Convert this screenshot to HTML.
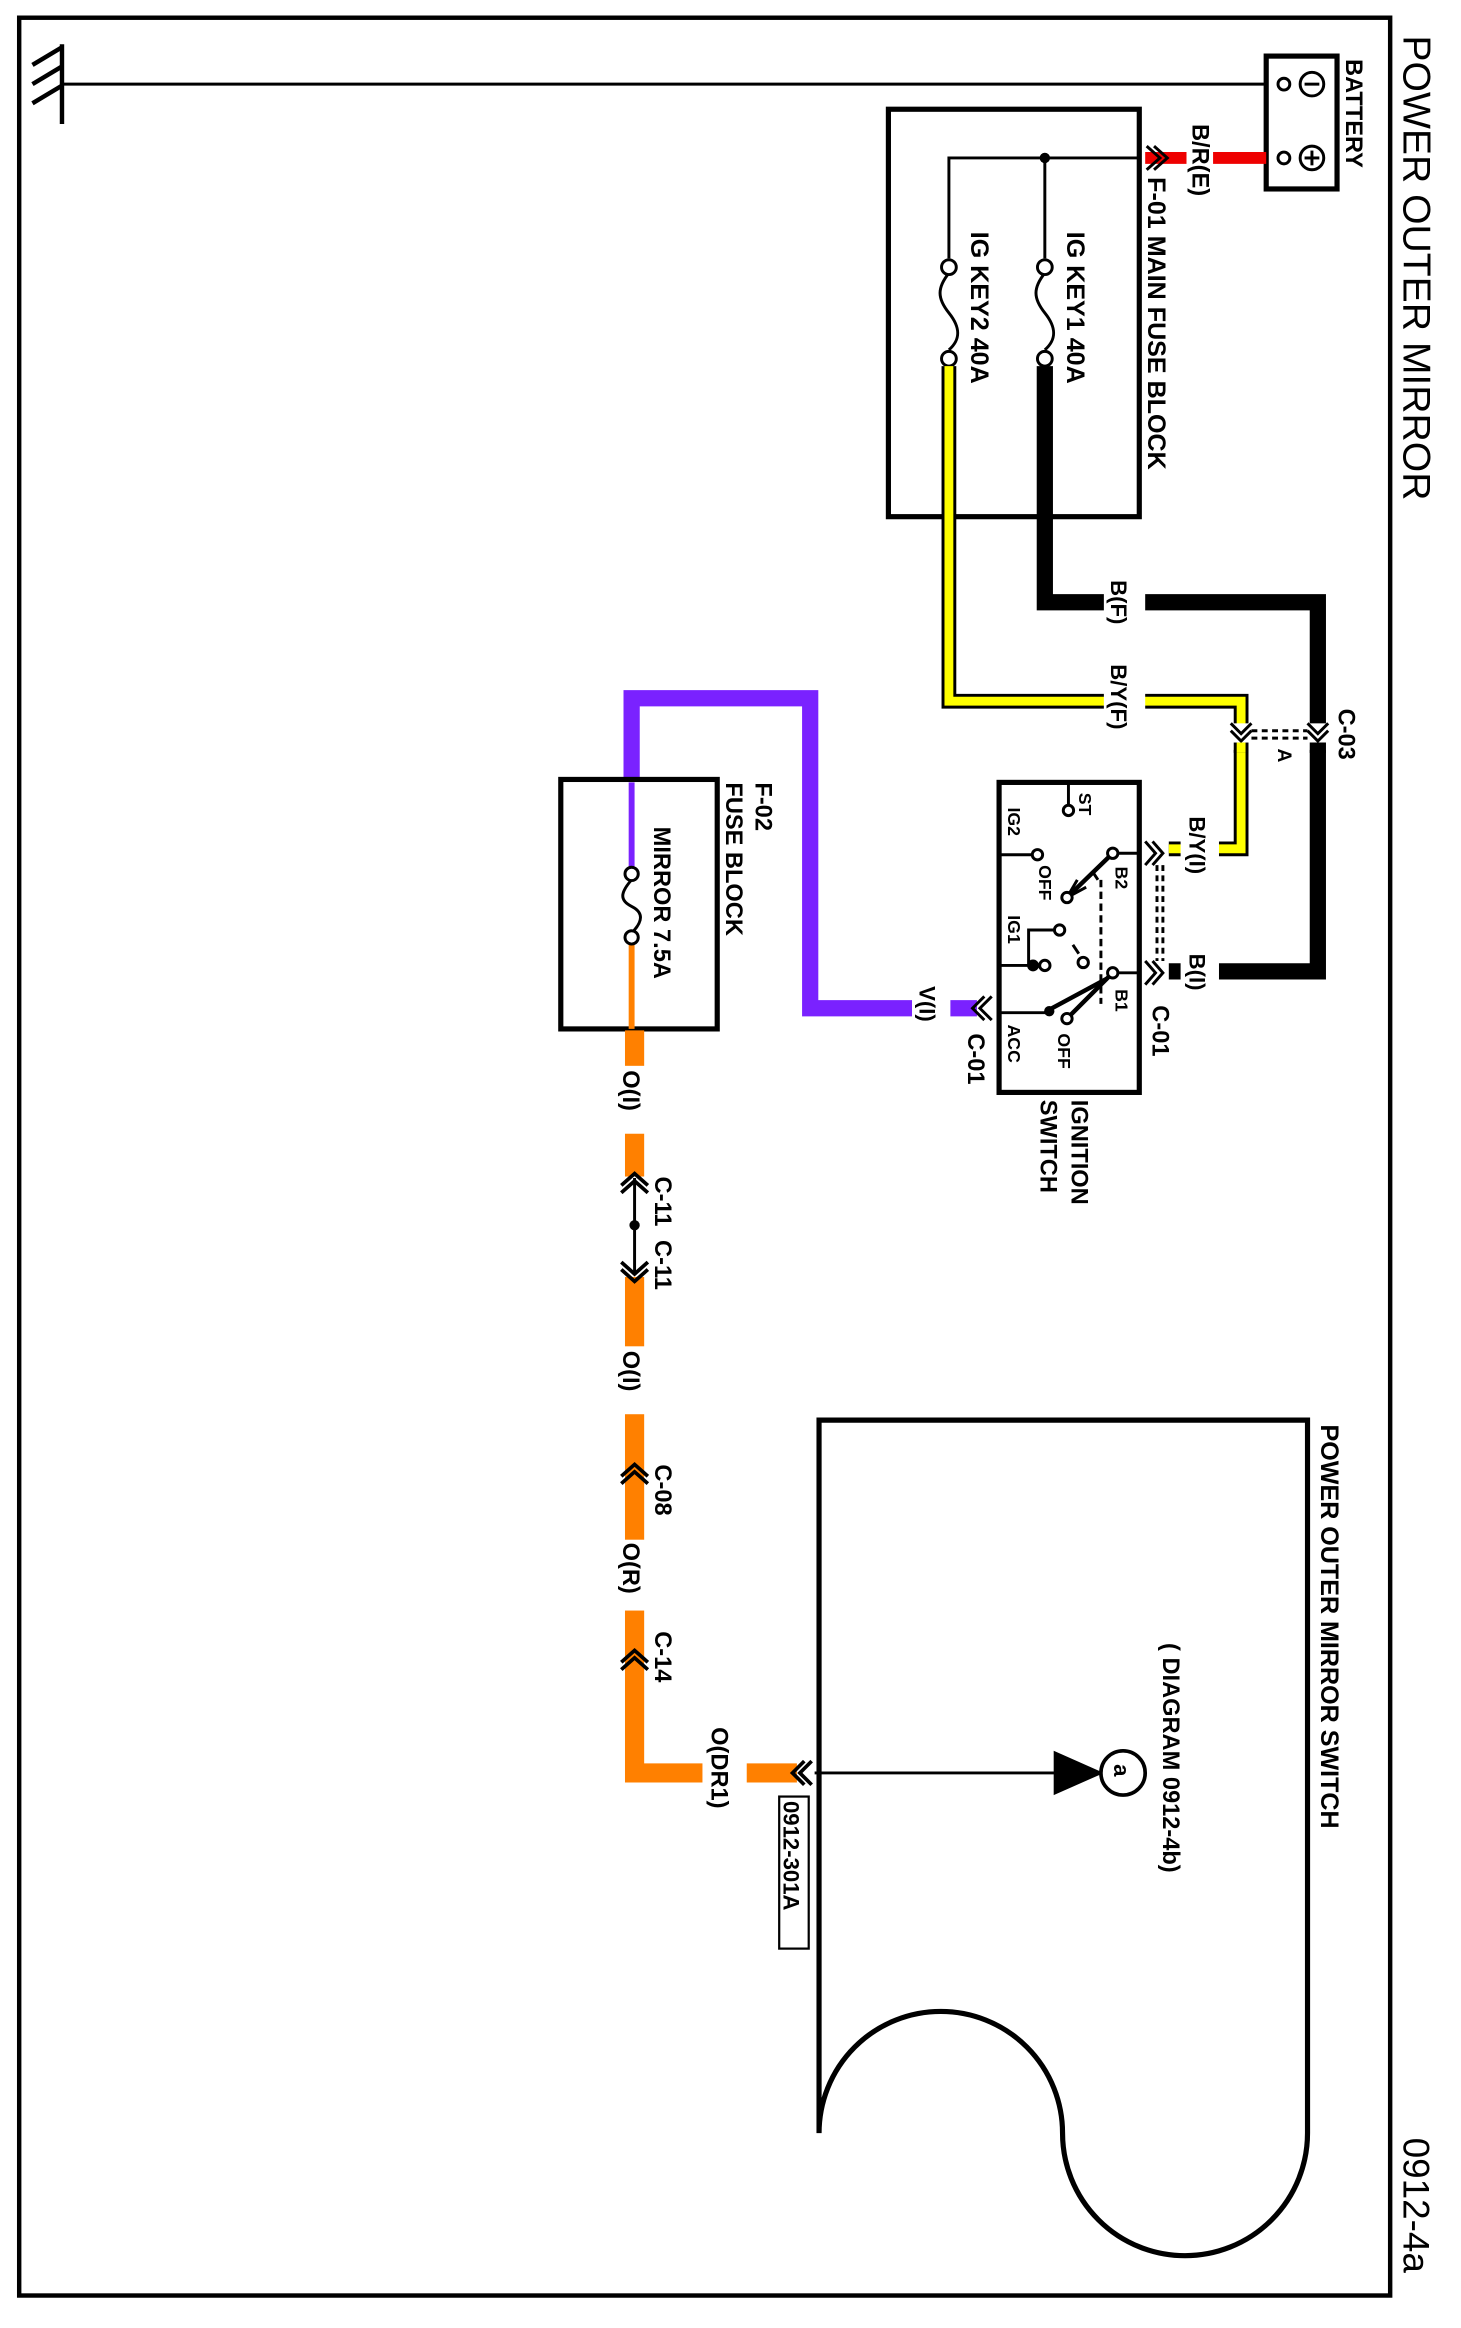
<!DOCTYPE html>
<html><head><meta charset="utf-8"><style>
html,body{margin:0;padding:0;background:#fff;}
svg{display:block}
text{font-family:"Liberation Sans",Arial,sans-serif;font-weight:bold;fill:#000}
</style></head><body>
<svg width="1461" height="2328" viewBox="0 0 990 1577" preserveAspectRatio="none" xmlns="http://www.w3.org/2000/svg">
<rect x="0" y="0" width="990" height="1577" fill="#fff"/>
<rect x="13" y="12" width="929" height="1543" fill="none" stroke="#000" stroke-width="3"/>
<text transform="translate(951,24) rotate(90)" font-size="26.5" style="font-weight:normal">POWER OUTER MIRROR</text>
<text transform="translate(951,1448) rotate(90)" font-size="25" style="font-weight:normal">0912-4a</text>

<g stroke="#000" stroke-width="3" fill="none">
<line x1="22" y1="44" x2="42" y2="32"/><line x1="22" y1="57" x2="42" y2="45"/><line x1="22" y1="70" x2="42" y2="58"/>
<line x1="42" y1="30" x2="42" y2="84"/>
</g>
<line x1="42" y1="57" x2="858" y2="57" stroke="#000" stroke-width="2"/>

<rect x="858" y="38" width="48" height="90" fill="#fff" stroke="#000" stroke-width="3.5"/>
<circle cx="870" cy="57" r="4" fill="#fff" stroke="#000" stroke-width="2"/>
<circle cx="889" cy="57" r="8" fill="#fff" stroke="#000" stroke-width="2"/>
<line x1="884" y1="57" x2="894" y2="57" stroke="#000" stroke-width="2"/>
<circle cx="870" cy="107" r="4" fill="#fff" stroke="#000" stroke-width="2"/>
<circle cx="889" cy="107" r="8" fill="#fff" stroke="#000" stroke-width="2"/>
<line x1="889" y1="102" x2="889" y2="112" stroke="#000" stroke-width="2"/>
<line x1="884" y1="107" x2="894" y2="107" stroke="#000" stroke-width="2"/>
<text transform="translate(912,40) rotate(90)" font-size="16">BATTERY</text>

<line x1="776" y1="107" x2="858" y2="107" stroke="#e00" stroke-width="8"/>
<rect x="804" y="95" width="18" height="24" fill="#fff"/>
<text transform="translate(808,84) rotate(90)" font-size="16">B/R(E)</text>
<path d="M777 99 L786 107 L777 115 M782 99 L791 107 L782 115" stroke="#000" stroke-width="2" fill="none"/>

<rect x="602" y="74" width="170" height="276" fill="none" stroke="#000" stroke-width="3.5"/>
<text transform="translate(778,120) rotate(90)" font-size="17">F-01 MAIN FUSE BLOCK</text>
<g stroke="#000" stroke-width="2" fill="none">
<polyline points="772,107 643,107 643,175"/>
<line x1="708" y1="107" x2="708" y2="175"/>
<path d="M708 185 C700 195,700 202,708 212 S716 230,708 237"/>
<path d="M643 185 C635 195,635 202,643 212 S651 230,643 237"/>
</g>
<circle cx="708" cy="107" r="3.5" fill="#000"/>
<circle cx="708" cy="181" r="5" fill="#fff" stroke="#000" stroke-width="2"/>
<circle cx="708" cy="243" r="5" fill="#fff" stroke="#000" stroke-width="2"/>
<circle cx="643" cy="181" r="5" fill="#fff" stroke="#000" stroke-width="2"/>
<circle cx="643" cy="243" r="5" fill="#fff" stroke="#000" stroke-width="2"/>
<text transform="translate(723,157) rotate(90)" font-size="17">IG KEY1 40A</text>
<text transform="translate(658,157) rotate(90)" font-size="17">IG KEY2 40A</text>

<polyline points="708,248 708,408 893,408 893,658 792,658" stroke="#000" stroke-width="11" fill="none"/>
<polyline points="643,248 643,475 841,475 841,575 792,575" stroke="#000" stroke-width="10" fill="none"/>
<polyline points="643,248 643,475 841,475 841,575 792,575" stroke="#ff0" stroke-width="6" fill="none"/>
<rect x="748" y="392" width="28" height="40" fill="#fff"/>
<text transform="translate(753,393) rotate(90)" font-size="15">B(F)</text>
<rect x="748" y="452" width="28" height="56" fill="#fff"/>
<text transform="translate(753,450) rotate(90)" font-size="15">B/Y(F)</text>

<rect x="828" y="490" width="75" height="18" fill="#fff"/>
<g stroke="#000" stroke-width="2" fill="none">
<path d="M834 490 L841 497 L848 490 M834 495 L841 502 L848 495"/>
<path d="M886 490 L893 497 L900 490 M886 495 L893 502 L900 495"/>
<line x1="848" y1="495" x2="886" y2="495" stroke-dasharray="4 3"/>
<line x1="848" y1="500" x2="886" y2="500" stroke-dasharray="4 3"/>
</g>
<line x1="841" y1="503" x2="841" y2="510" stroke="#000" stroke-width="10"/>
<line x1="841" y1="503" x2="841" y2="510" stroke="#ff0" stroke-width="6"/>
<line x1="893" y1="503" x2="893" y2="510" stroke="#000" stroke-width="11"/>
<text transform="translate(907,480) rotate(90)" font-size="16">C-03</text>
<text transform="translate(866,507) rotate(90)" font-size="13">A</text>

<rect x="800" y="552" width="26" height="52" fill="#fff"/>
<text transform="translate(806,553) rotate(90)" font-size="15">B/Y(I)</text>
<rect x="800" y="645" width="26" height="34" fill="#fff"/>
<text transform="translate(806,646) rotate(90)" font-size="15">B(I)</text>

<rect x="677" y="530" width="95" height="210" fill="#fff" stroke="#000" stroke-width="3.5"/>
<g stroke="#000" stroke-width="2" fill="none">
<path d="M776 570 L783 578 L776 586 M781 570 L788 578 L781 586"/>
<path d="M776 651 L783 659 L776 667 M781 651 L788 659 L781 667"/>
<line x1="784" y1="586" x2="784" y2="651" stroke-dasharray="4 3"/>
<line x1="788" y1="586" x2="788" y2="651" stroke-dasharray="4 3"/>
<line x1="772" y1="578" x2="754" y2="578"/>
<line x1="772" y1="659" x2="754" y2="659"/>
<line x1="724" y1="530" x2="724" y2="547"/>
<line x1="677" y1="579" x2="700" y2="579"/>
<line x1="754" y1="578" x2="723" y2="608" stroke-width="3"/>
<path d="M723 608 L730 596 M723 608 L736 601"/>
<line x1="677" y1="654" x2="700" y2="654"/>
<polyline points="697,654 697,630 718,630"/>
<line x1="754" y1="659" x2="723" y2="690" stroke-width="3"/>
<line x1="750" y1="663" x2="711" y2="684" stroke-width="3"/>
<line x1="677" y1="686" x2="711" y2="686"/>
<line x1="746" y1="596" x2="746" y2="680" stroke-dasharray="5 3"/>
<line x1="740" y1="590" x2="744" y2="596"/>
<line x1="727" y1="640" x2="731" y2="646"/>
</g>
<circle cx="724" cy="549" r="3.5" fill="#fff" stroke="#000" stroke-width="2"/>
<circle cx="703" cy="579" r="3.5" fill="#fff" stroke="#000" stroke-width="2"/>
<circle cx="754" cy="578" r="3.5" fill="#fff" stroke="#000" stroke-width="2"/>
<circle cx="723" cy="608" r="3.5" fill="#fff" stroke="#000" stroke-width="2"/>
<circle cx="718" cy="630" r="3.5" fill="#fff" stroke="#000" stroke-width="2"/>
<circle cx="700" cy="654" r="4" fill="#000"/>
<circle cx="708" cy="654" r="3.5" fill="#fff" stroke="#000" stroke-width="2"/>
<circle cx="754" cy="659" r="3.5" fill="#fff" stroke="#000" stroke-width="2"/>
<circle cx="734" cy="652" r="3.5" fill="#fff" stroke="#000" stroke-width="2"/>
<circle cx="723" cy="690" r="3.5" fill="#fff" stroke="#000" stroke-width="2"/>
<circle cx="711" cy="685" r="3.5" fill="#000"/>
<text transform="translate(731,537) rotate(90)" font-size="12">ST</text>
<text transform="translate(683,547) rotate(90)" font-size="12">IG2</text>
<text transform="translate(704,586) rotate(90)" font-size="12">OFF</text>
<text transform="translate(756,587) rotate(90)" font-size="12">B2</text>
<text transform="translate(683,620) rotate(90)" font-size="12">IG1</text>
<text transform="translate(756,670) rotate(90)" font-size="12">B1</text>
<text transform="translate(683,694) rotate(90)" font-size="12">ACC</text>
<text transform="translate(717,700) rotate(90)" font-size="12">OFF</text>
<text transform="translate(781,681) rotate(90)" font-size="16">C-01</text>
<text transform="translate(726,745) rotate(90)" font-size="16">IGNITION</text>
<text transform="translate(705,745) rotate(90)" font-size="16">SWITCH</text>

<polyline points="428,530 428,473 549,473 549,683 662,683" stroke="#7a22ff" stroke-width="11" fill="none"/>
<rect x="618" y="672" width="26" height="30" fill="#fff"/>
<text transform="translate(623,668) rotate(90)" font-size="15">V(I)</text>
<path d="M672 675 L664 683 L672 691 M667 675 L659 683 L667 691" stroke="#000" stroke-width="2" fill="none"/>
<text transform="translate(656,700) rotate(90)" font-size="16">C-01</text>

<rect x="380" y="528" width="106" height="169" fill="#fff" stroke="#000" stroke-width="3.5"/>
<line x1="428" y1="530" x2="428" y2="588" stroke="#7a22ff" stroke-width="4"/>
<line x1="428" y1="638" x2="428" y2="697" stroke="#ff8000" stroke-width="4"/>
<path d="M428 596 C420 605,420 610,428 614 S436 624,428 632" stroke="#000" stroke-width="2" fill="none"/>
<circle cx="428" cy="592" r="4.5" fill="#fff" stroke="#000" stroke-width="2"/>
<circle cx="428" cy="635" r="4.5" fill="#fff" stroke="#000" stroke-width="2"/>
<text transform="translate(443,560) rotate(90)" font-size="16">MIRROR 7.5A</text>
<text transform="translate(512,530) rotate(90)" font-size="16">F-02</text>
<text transform="translate(492,530) rotate(90)" font-size="16">FUSE BLOCK</text>

<polyline points="430,698 430,1201 540,1201" stroke="#ff8000" stroke-width="13" fill="none"/>
<rect x="416" y="722" width="28" height="46" fill="#fff"/>
<text transform="translate(422,725) rotate(90)" font-size="16">O(I)</text>
<rect x="416" y="797" width="28" height="68" fill="#fff"/>
<line x1="430" y1="798" x2="430" y2="862" stroke="#000" stroke-width="2"/>
<circle cx="430" cy="830" r="3.5" fill="#000"/>
<path d="M421 803 L430 795 L439 803 M421 808 L430 800 L439 808" stroke="#000" stroke-width="2.5" fill="none"/>
<path d="M421 855 L430 863 L439 855 M421 860 L430 868 L439 860" stroke="#000" stroke-width="2.5" fill="none"/>
<text transform="translate(444,797) rotate(90)" font-size="16">C-11</text>
<text transform="translate(444,840) rotate(90)" font-size="16">C-11</text>
<rect x="416" y="912" width="28" height="46" fill="#fff"/>
<text transform="translate(422,915) rotate(90)" font-size="16">O(I)</text>
<path d="M421 1000 L430 992 L439 1000 M421 1005 L430 997 L439 1005" stroke="#000" stroke-width="2.5" fill="none"/>
<text transform="translate(444,992) rotate(90)" font-size="16">C-08</text>
<rect x="416" y="1043" width="28" height="48" fill="#fff"/>
<text transform="translate(422,1045) rotate(90)" font-size="16">O(R)</text>
<path d="M421 1126 L430 1118 L439 1126 M421 1131 L430 1123 L439 1131" stroke="#000" stroke-width="2.5" fill="none"/>
<text transform="translate(444,1105) rotate(90)" font-size="16">C-14</text>
<rect x="476" y="1190" width="30" height="22" fill="#fff"/>
<text transform="translate(482,1170) rotate(90)" font-size="16">O(DR1)</text>
<path d="M545 1193 L537 1201 L545 1209 M550 1193 L542 1201 L550 1209" stroke="#000" stroke-width="2.5" fill="none"/>
<rect x="528" y="1217" width="20" height="103" fill="#fff" stroke="#000" stroke-width="1.5"/>
<text transform="translate(531,1220) rotate(90)" font-size="15">0912-301A</text>

<path d="M555 1445 L555 962 L886 962 L886 1445 A83 83 0 0 1 720 1445 A82 82 0 0 0 555 1445" fill="none" stroke="#000" stroke-width="3.5"/>
<text transform="translate(895,965) rotate(90)" font-size="17">POWER OUTER MIRROR SWITCH</text>
<text transform="translate(788,1113) rotate(90)" font-size="16">( DIAGRAM 0912-4b)</text>
<line x1="552" y1="1201" x2="716" y2="1201" stroke="#000" stroke-width="2"/>
<polygon points="714,1186 714,1216 748,1201" fill="#000"/>
<circle cx="761" cy="1201" r="15" fill="#fff" stroke="#000" stroke-width="2.5"/>
<text transform="translate(755,1195) rotate(90)" font-size="15">a</text>
</svg>
</body></html>
